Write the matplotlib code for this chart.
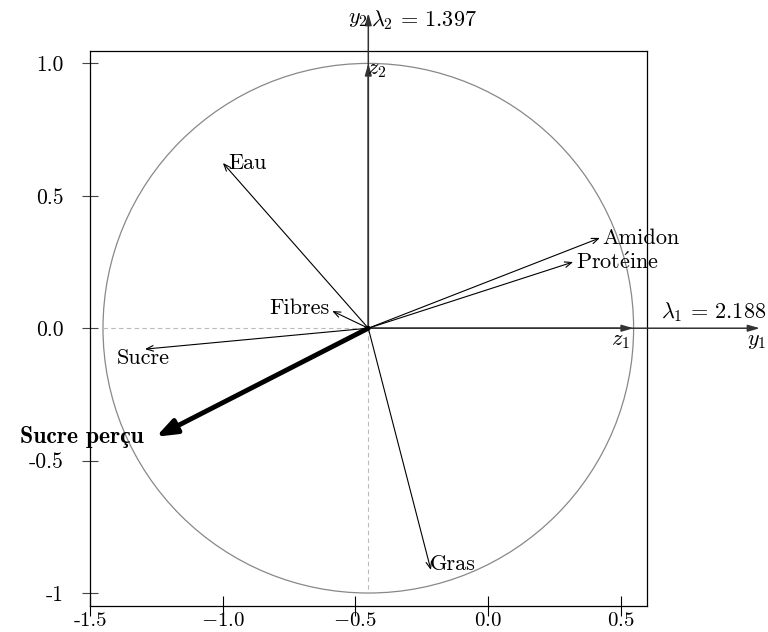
import matplotlib
matplotlib.use("Agg")
import matplotlib.pyplot as plt
from matplotlib.patches import Circle

plt.rcParams["font.family"] = ["cmr10", "DejaVu Serif"]
plt.rcParams["mathtext.fontset"] = "cm"
plt.rcParams["axes.unicode_minus"] = False

# Correlation circle: variables projected on the first two components
center_x = -0.451
variables = ["Eau", "Amidon", r"$\mathrm{Prot\acute{e}ine}$", "Fibres", "Sucre", "Gras"]
load_x = [-0.548, 0.873, 0.772, -0.136, -0.842, 0.236]
load_y = [0.624, 0.341, 0.250, 0.065, -0.079, -0.913]

# Supplementary variable
supp_name = "Sucre perçu"
supp_x = -0.80
supp_y = -0.41

eigenvalues = [2.188, 1.397]

xticks = [-1.5, -1.0, -0.5, 0.0, 0.5]
xtick_labels = ["-1.5", r"$-1.0$", r"$-0.5$", r"$0.0$", r"$0.5$"]
yticks = [1.0, 0.5, 0.0, -0.5, -1.0]
ytick_labels = ["1.0", "0.5", "0.0", "-0.5", "-1"]

FS = 16

fig = plt.figure(figsize=(7.68, 6.32), dpi=100)
ax = fig.add_axes([90 / 768, 26 / 632, 557.4 / 768, 555.3 / 632])
ax.set_xlim(-1.5, 0.601)
ax.set_ylim(-1.049, 1.048)

for s in ax.spines.values():
    s.set_linewidth(0.9)
    s.set_color("black")

ax.set_xticks(xticks)
ax.set_xticklabels(xtick_labels)
ax.set_yticks(yticks)
ax.set_yticklabels(ytick_labels)
ax.tick_params(axis="x", direction="inout", length=14, width=0.8,
               labelsize=15, pad=-2.5)
ax.tick_params(axis="y", direction="inout", length=12, width=0.8,
               labelsize=15.5, pad=13, color="#444444")

# unit circle
ax.add_patch(Circle((center_x, 0), 1.0, fill=False, edgecolor="#888888",
                    linewidth=0.9))

# dashed guides
ax.plot([center_x - 1, center_x], [0, 0], ls=(0, (4, 3)), color="#bbbbbb", lw=0.8)
ax.plot([center_x, center_x], [0, -1], ls=(0, (4, 3)), color="#bbbbbb", lw=0.8)

axis_col = "#333333"
arrow_kw = dict(arrowstyle="-|>,head_length=0.7,head_width=0.2",
                color=axis_col, lw=1.1, shrinkA=0, shrinkB=0)

# component axes y1, y2 running past the frame
ax.annotate("", xy=(1.025, 0), xytext=(center_x, 0), arrowprops=arrow_kw,
            annotation_clip=False)
ax.annotate("", xy=(center_x, 1.19), xytext=(center_x, 0), arrowprops=arrow_kw,
            annotation_clip=False)
# unit vectors z1, z2
ax.annotate("", xy=(center_x + 1, 0), xytext=(center_x, 0), arrowprops=arrow_kw,
            annotation_clip=False)
ax.annotate("", xy=(center_x, 1.0), xytext=(center_x, 0), arrowprops=arrow_kw,
            annotation_clip=False)

ax.text(1.05, -0.05, r"$y_1$", fontsize=FS, ha="right", va="center", clip_on=False)
ax.text(1.05, 0.06, r"$\lambda_1\,=\,%.3f$" % eigenvalues[0], fontsize=FS,
        ha="right", va="center", clip_on=False)
ax.text(center_x + 0.985, -0.05, r"$z_1$", fontsize=FS, ha="right", va="center")
ax.text(center_x - 0.003, 1.165, r"$y_2$", fontsize=FS, ha="right", va="center",
        clip_on=False)
ax.text(center_x + 0.01, 1.165, r"$\lambda_2\,=\,%.3f$" % eigenvalues[1], fontsize=FS,
        ha="left", va="center", clip_on=False)
ax.text(center_x - 0.005, 0.975, r"$z_2$", fontsize=FS, ha="left", va="center")

var_kw = dict(arrowstyle="->,head_length=0.5,head_width=0.2",
              color="black", lw=0.8, shrinkA=0, shrinkB=0)

label_pos = [
    (0.02, 0.0, "left", "center"),
    (0.01, 0.0, "left", "center"),
    (0.01, 0.0, "left", "center"),
    (-0.01, 0.01, "right", "center"),
    (-0.005, -0.035, "center", "center"),
    (-0.005, 0.02, "left", "center"),
]

for name, lx, ly, (ox, oy, ha, va) in zip(variables, load_x, load_y, label_pos):
    tx, ty = center_x + lx, ly
    ax.annotate("", xy=(tx, ty), xytext=(center_x, 0), arrowprops=var_kw)
    ax.text(tx + ox, ty + oy, name, fontsize=FS, ha=ha, va=va)

ax.annotate("", xy=(center_x + supp_x, supp_y), xytext=(center_x, 0),
            arrowprops=dict(arrowstyle="-|>,head_length=1.2,head_width=0.45",
                            color="black", lw=3.5, shrinkA=0, shrinkB=0))
ax.text(center_x + supp_x - 0.045, supp_y, supp_name, fontsize=17,
        family=["cmb10", "Liberation Serif"], fontweight="bold",
        ha="right", va="center", clip_on=False)

fig.savefig("out.png", dpi=100)
